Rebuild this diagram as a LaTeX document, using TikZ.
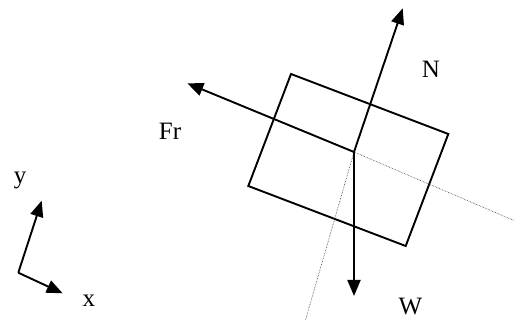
\documentclass[tikz,border=0pt]{standalone}
\usepackage{fontspec}
\setmainfont{Liberation Serif}
\usetikzlibrary{arrows.meta}
\begin{document}
\begin{tikzpicture}[x=1pt,y=-1pt,
  force/.style={line width=1.9pt,-{Triangle[length=16pt,width=13pt]}},
  edge/.style={line width=1.9pt,line join=miter},
  guide/.style={line width=0.6pt,densely dotted,black!80},
  lbl/.style={anchor=base,inner sep=0pt,font=\fontsize{25}{29}\selectfont}]
\useasboundingbox (0,0) rectangle (514,320);
% block
\coordinate (A) at (291,74);
\coordinate (B) at (448.3,134);
\coordinate (C) at (405.7,246);
\coordinate (D) at (248.3,186);
\draw[edge] (A) -- (B) -- (C) -- (D) -- cycle;
% forces
\coordinate (O) at (354,152);
\coordinate (Ntip) at (402.7,8.3);
\coordinate (Frtip) at (187.3,83.3);
\coordinate (Wtip) at (354,296);
\coordinate (g1) at (514,220.5);
\coordinate (g2) at (305.5,320);
\draw[guide] (O) -- (g1);
\draw[guide] (O) -- (g2);
\draw[force] (O) -- (Ntip);
\draw[force] (O) -- (Frtip);
\draw[force] (O) -- (Wtip);
\node[lbl] (N) at (431,77.7) {N};
\node[lbl] (Fr) at (170,139.3) {Fr};
\node[lbl] (W) at (410.5,315) {W};
% axes
\coordinate (P) at (18.3,272.7);
\coordinate (Ytip) at (41.7,200.7);
\coordinate (Xtip) at (62.7,293.3);
\draw[force] (P) -- (Ytip);
\draw[force] (P) -- (Xtip);
\node[lbl] (ylab) at (20,184) {y};
\node[lbl] (xlab) at (88.8,306.7) {x};
\end{tikzpicture}
\end{document}
